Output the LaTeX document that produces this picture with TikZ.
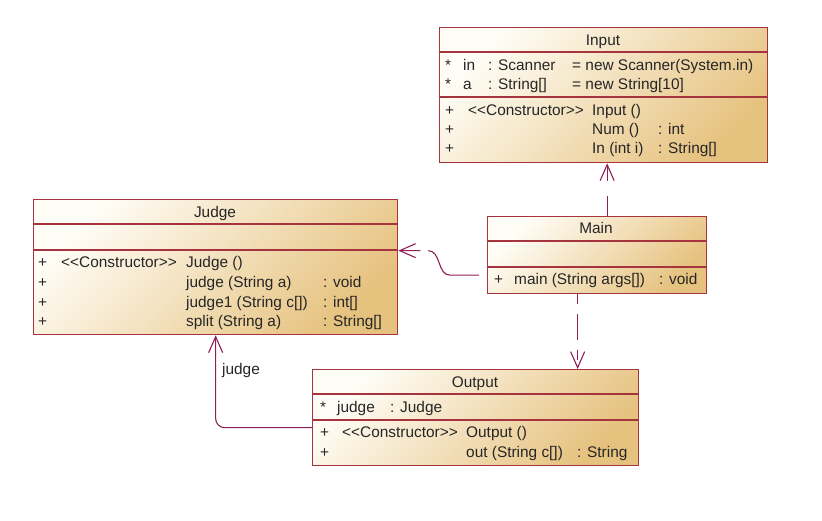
\documentclass[tikz,border=0pt]{standalone}
\usepackage{fontspec}
\setmainfont{Liberation Sans}
\usetikzlibrary{arrows.meta}
\definecolor{boxline}{HTML}{A5343E}
\definecolor{linkline}{HTML}{8E1F57}
\definecolor{boxlight}{HTML}{FFFDF6}
\definecolor{boxdark}{HTML}{E6C27F}
\tikzset{
  classbox/.style={draw=boxline, line width=1.3pt, anchor=north west, inner sep=0pt,
    top color=boxlight, bottom color=boxdark, shading angle=45},
  sepline/.style={boxline, line width=1.3pt},
  txt/.style={anchor=base west, inner sep=0pt, text=black!85, font=\fontsize{15.4}{18}\selectfont},
  ttl/.style={txt, anchor=base},
  dep/.style={linkline, line width=1.1pt, -{Straight Barb[length=16pt,width=14pt]}},
  assoc/.style={linkline, line width=1.1pt, rounded corners=9pt, -{Straight Barb[length=16pt,width=14pt]}}
}
\begin{document}
\begin{tikzpicture}[x=1pt, y=-1pt]
\useasboundingbox (0,0) rectangle (822,520);
% class boxes
\node[classbox, minimum width=328pt, minimum height=135pt] (input) at (439,27) {};
\node[classbox, minimum width=364pt, minimum height=135pt] (judge) at (33,199) {};
\node[classbox, minimum width=219pt, minimum height=77pt] (main) at (487,216) {};
\node[classbox, minimum width=326pt, minimum height=96pt] (output) at (312,369) {};
% compartments
\foreach \b/\s in {input/25, input/70, judge/25, judge/51, main/25, main/51, output/25, output/51}
  \draw[sepline] ([yshift=-\s pt]\b.north west) -- ([yshift=-\s pt]\b.north east);

% Input
\node[ttl] (inputT) at (603,45) {Input};
\node[txt] (inputA1) at (445,70) {*};
\node[txt] (inputA1n) at (463,70) {in};
\node[txt] (inputA1t) at (488,70) {: Scanner};
\node[txt] (inputA1v) at (572,70) {= new Scanner(System.in)};
\node[txt] (inputA2) at (445,89) {*};
\node[txt] (inputA2n) at (463,89) {a};
\node[txt] (inputA2t) at (488,89) {: String[]};
\node[txt] (inputA2v) at (572,89) {= new String[10]};
\foreach \y in {115,134,153}
  \node[txt] (inputP\y) at (445,\y) {+};
\node[txt] (inputC) at (468,115) {<{}<Constructor>{}>};
\node[txt] (inputM1) at (592,115) {Input ()};
\node[txt] (inputM2) at (592,134) {Num ()};
\node[txt] (inputR2) at (658,134) {: int};
\node[txt] (inputM3) at (592,153) {In (int i)};
\node[txt] (inputR3) at (658,153) {: String[]};

% Judge
\node[ttl] (judgeT) at (215,217) {Judge};
\foreach \y in {267,287,307,326}
  \node[txt] (judgeP\y) at (38,\y) {+};
\node[txt] (judgeC) at (61,267) {<{}<Constructor>{}>};
\node[txt] (judgeM1) at (186,267) {Judge ()};
\node[txt] (judgeM2) at (186,287) {judge (String a)};
\node[txt] (judgeR2) at (323,287) {: void};
\node[txt] (judgeM3) at (186,307) {judge1 (String c[])};
\node[txt] (judgeR3) at (323,307) {: int[]};
\node[txt] (judgeM4) at (186,326) {split (String a)};
\node[txt] (judgeR4) at (323,326) {: String[]};

% Main
\node[ttl] (mainT) at (596,233) {Main};
\node[txt] (mainP) at (494,284) {+};
\node[txt] (mainM1) at (514,284) {main (String args[])};
\node[txt] (mainR1) at (659,284) {: void};

% Output
\node[ttl] (outputT) at (475,387) {Output};
\node[txt] (outputA1) at (320,412) {*};
\node[txt] (outputA1n) at (337,412) {judge};
\node[txt] (outputA1t) at (390,412) {: Judge};
\foreach \y in {437,457}
  \node[txt] (outputP\y) at (320,\y) {+};
\node[txt] (outputC) at (342,437) {<{}<Constructor>{}>};
\node[txt] (outputM1) at (466,437) {Output ()};
\node[txt] (outputM2) at (466,457) {out (String c[])};
\node[txt] (outputR2) at (577,457) {: String};

% connectors
\coordinate (mainUp) at ([xshift=10pt]main.north);
\coordinate (mainDown) at ([xshift=-19.5pt]main.south);
\coordinate (mainLeft) at ([yshift=-20pt]main.west);
\coordinate (judgeRight) at ([yshift=16.5pt]judge.east);
\coordinate (outputLeft) at ([yshift=-10pt]output.west);
\draw[dep, dash pattern=on 20pt off 15pt] (mainUp) -- (mainUp |- input.south);
\draw[dep, dash pattern=on 10pt off 10pt on 26pt off 10pt] (mainDown) -- (mainDown |- output.north);
\draw[dep, dash pattern=on 64pt off 8pt, dash phase=64pt] (mainLeft) -- ++(-37,0)
  to[out=180,in=0] ([xshift=30pt]judgeRight) -- (judgeRight);
\draw[assoc] (outputLeft) -| (judge.south);
\node[txt] (assocL) at (222,374) {judge};
\end{tikzpicture}
\end{document}
